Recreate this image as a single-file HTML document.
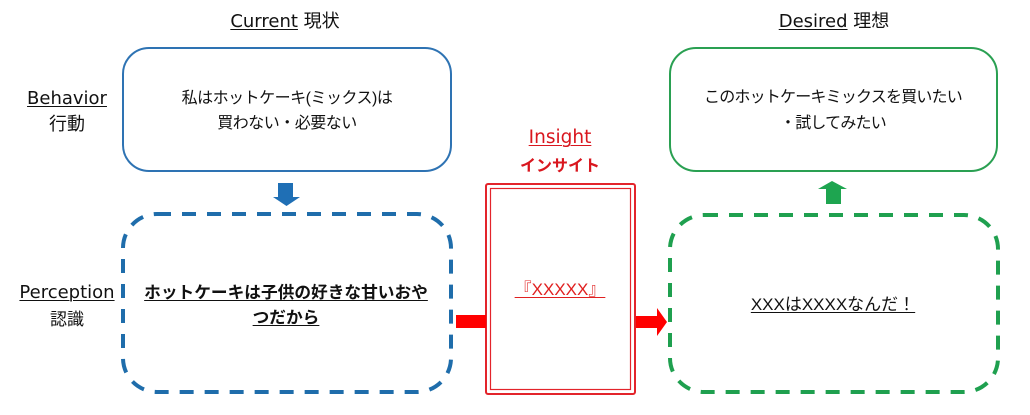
<!DOCTYPE html>
<html>
<head>
<meta charset="utf-8">
<style>
  html,body{margin:0;padding:0;background:#fff;}
  body{width:1030px;height:415px;position:relative;overflow:hidden;}
  .t{position:absolute;text-align:center;white-space:nowrap;color:#111;}
  .lat{font-family:"DejaVu Sans","Noto Sans CJK JP",sans-serif;}
  .jp{font-family:"Liberation Sans","Noto Sans CJK JP",sans-serif;}
  .cj{font-family:"Noto Sans CJK JP",sans-serif;}
  u{text-decoration:underline;text-decoration-thickness:1px;text-underline-offset:2px;}
</style>
</head>
<body>
<svg width="1030" height="415" style="position:absolute;left:0;top:0" xmlns="http://www.w3.org/2000/svg">
  <!-- top solid boxes -->
  <rect x="123" y="48" width="328" height="123" rx="26" fill="none" stroke="#2e73b3" stroke-width="2"/>
  <rect x="670" y="48" width="327" height="123" rx="26" fill="none" stroke="#2aa052" stroke-width="2"/>
  <!-- dashed boxes -->
  <rect x="123" y="214" width="328" height="178" rx="34" fill="none" stroke="#1f6dab" stroke-width="4" stroke-dasharray="14 11"/>
  <rect x="670" y="215" width="328" height="177" rx="34" fill="none" stroke="#1fa04f" stroke-width="4" stroke-dasharray="14 11"/>
  <!-- insight double box -->
  <rect x="486" y="184" width="149" height="210" rx="2" fill="none" stroke="#e3242b" stroke-width="2"/>
  <rect x="490.5" y="188.5" width="140" height="201" fill="none" stroke="#e3242b" stroke-width="1.2"/>
  <!-- arrows -->
  <polygon points="278,183 293,183 293,197 300,197 286.5,206 273,197 278,197" fill="#1f6fb5"/>
  <polygon points="832,181 847,189 841,189 841,204 826,204 826,189 818,189" fill="#1ea550"/>
  <rect x="456" y="315" width="30" height="13" fill="#ff0000"/>
  <polygon points="636,316 657,316 657,308 667,322 657,336 657,328 636,328" fill="#ff0000"/>
</svg>

<!-- column headers -->
<div class="t lat" style="left:135px;width:300px;top:9px;line-height:22px;font-size:18px;"><u>Current</u> <span class="cj">現状</span></div>
<div class="t lat" style="left:684px;width:300px;top:9px;line-height:22px;font-size:18px;"><u>Desired</u> <span class="cj">理想</span></div>

<!-- row labels -->
<div class="t lat" style="left:0;width:134px;top:87px;line-height:24px;font-size:18px;"><u>Behavior</u><br><span class="cj">行動</span></div>
<div class="t lat" style="left:0;width:134px;top:280px;line-height:25px;font-size:18px;"><u>Perception</u><br><span class="cj" style="font-size:17px;">認識</span></div>

<!-- box texts -->
<div class="t jp" style="left:137px;width:300px;top:86px;line-height:25px;font-size:16px;letter-spacing:-0.5px;">私はホットケーキ(ミックス)は<br>買わない・必要ない</div>
<div class="t jp" style="left:136px;width:300px;top:280px;line-height:25px;font-size:16.7px;font-weight:700;"><u>ホットケーキは子供の好きな甘いおや</u><br><u>つだから</u></div>

<div class="t jp" style="left:683px;width:300px;top:85px;line-height:26px;font-size:16px;letter-spacing:-0.8px;">このホットケーキミックスを買いたい<br>・試してみたい</div>
<div class="t jp" style="left:683px;width:300px;top:292px;line-height:26px;font-size:17px;"><u>XXXはXXXXなんだ！</u></div>

<!-- insight -->
<div class="t lat" style="left:460px;width:200px;top:125px;line-height:26px;font-size:18.5px;color:#d9161e;"><u>Insight</u><br><span class="cj" style="font-size:16px;font-weight:700;">インサイト</span></div>
<div class="t jp" style="left:460px;width:200px;top:277px;line-height:26px;font-size:17px;color:#e02020;"><u>『XXXXX』</u></div>
</body>
</html>
